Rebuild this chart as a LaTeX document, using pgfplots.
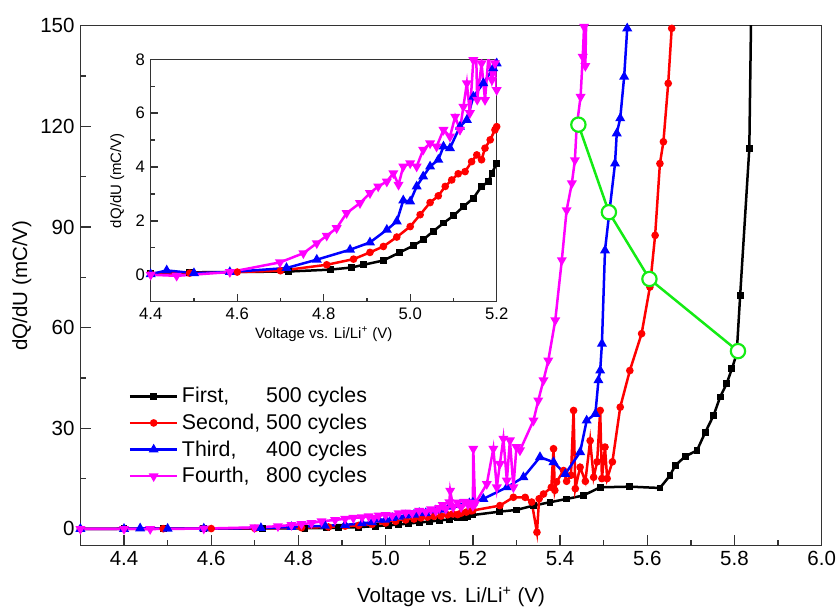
\documentclass[border=0pt]{standalone}
\usepackage{pgfplots}
\pgfplotsset{compat=1.18}
\usepackage{pgfplotstable}
\usepackage{fontspec}
\setmainfont{Liberation Sans}

\definecolor{lgreen}{RGB}{20,235,20}
\definecolor{pmag}{RGB}{255,0,255}
\definecolor{pred}{RGB}{255,0,0}
\definecolor{pblue}{RGB}{0,0,255}

% First, 500 cycles
\pgfplotstableread{
V q
4.300 0.00
4.400 0.06
4.490 0.09
4.583 0.10
4.718 0.12
4.815 0.19
4.865 0.27
4.892 0.37
4.938 0.53
4.976 0.83
5.007 1.08
5.030 1.30
5.053 1.61
5.077 1.92
5.100 2.19
5.123 2.53
5.146 2.84
5.165 3.28
5.181 3.46
5.189 3.77
5.200 4.14
5.262 5.16
5.300 5.66
5.339 6.95
5.377 7.95
5.415 8.94
5.453 9.94
5.492 12.4
5.560 12.6
5.629 12.2
5.652 15.9
5.664 18.9
5.687 21.6
5.714 23.4
5.733 28.8
5.752 33.8
5.767 39.3
5.782 43.3
5.794 47.7
5.805 52.2
5.813 69.6
5.834 113.4
5.838 152
}\first

% Second, 500 cycles
\pgfplotstableread{
V q
4.300 0.00
4.400 0.03
4.490 0.06
4.600 0.10
4.700 0.15
4.807 0.37
4.869 0.58
4.907 0.83
4.938 1.05
4.969 1.40
5.000 1.79
5.023 2.23
5.046 2.68
5.065 2.93
5.081 3.28
5.096 3.52
5.111 3.75
5.127 3.83
5.142 4.20
5.154 4.45
5.165 4.27
5.173 4.70
5.185 5.01
5.196 5.38
5.200 5.50
5.262 6.95
5.293 9.43
5.320 9.40
5.335 8.00
5.347 -1.00
5.352 9.00
5.362 10.4
5.380 12.4
5.385 23.9
5.388 11.5
5.392 14.0
5.408 17.4
5.415 14.2
5.425 16.0
5.431 35.3
5.435 12.0
5.446 18.4
5.458 14.2
5.469 26.3
5.477 15.4
5.485 20.0
5.492 35.3
5.496 15.0
5.503 24.4
5.508 15.0
5.520 20.0
5.538 36.3
5.560 47.2
5.587 58.2
5.606 72.1
5.618 87.5
5.629 108.9
5.637 115.4
5.648 132.8
5.656 149.2
5.658 152
}\second

% Third, 400 cycles
\pgfplotstableread{
V q
4.300 0.00
4.400 0.02
4.437 0.16
4.500 0.06
4.583 0.10
4.714 0.25
4.784 0.56
4.861 0.93
4.907 1.20
4.946 1.67
4.969 1.98
4.984 2.76
5.000 2.72
5.015 3.28
5.030 3.65
5.046 4.02
5.065 4.27
5.077 4.76
5.092 4.70
5.115 5.50
5.131 5.75
5.146 6.61
5.169 7.11
5.192 7.67
5.200 7.85
5.224 8.95
5.278 12.4
5.316 15.4
5.354 21.4
5.385 19.9
5.412 16.4
5.446 22.9
5.461 32.3
5.481 34.3
5.488 44.3
5.492 47.2
5.496 55.2
5.503 83.0
5.513 94.4
5.526 108.9
5.530 117.9
5.538 122.4
5.547 134.8
5.554 149.2
5.556 152
}\third

% Fourth, 800 cycles
\pgfplotstableread{
V q
4.300 0.00
4.400 0.00
4.460 -0.04
4.583 0.10
4.699 0.46
4.753 0.80
4.784 1.17
4.807 1.45
4.830 1.73
4.853 2.29
4.884 2.66
4.907 3.03
4.926 3.28
4.946 3.46
4.961 3.77
4.973 3.34
4.984 4.02
5.000 4.14
5.015 4.02
5.030 4.64
5.046 4.88
5.061 4.76
5.077 5.38
5.092 5.13
5.104 5.87
5.115 5.38
5.123 6.24
5.131 7.11
5.138 6.00
5.146 7.97
5.148 11.4
5.155 6.50
5.165 7.85
5.173 6.49
5.181 8.10
5.189 7.23
5.196 7.85
5.200 6.86
5.201 23.9
5.205 7.50
5.232 13.4
5.247 23.9
5.255 12.4
5.262 19.4
5.270 26.9
5.278 14.4
5.285 26.4
5.293 12.4
5.300 24.4
5.308 23.4
5.339 32.3
5.350 38.3
5.362 44.3
5.373 50.2
5.389 62.2
5.404 80.1
5.415 95.0
5.427 103.0
5.434 109.9
5.438 119.8
5.447 128.8
5.452 140.7
5.455 149.7
5.458 138.0
5.460 152
}\fourth

% onset points
\pgfplotstableread{
V q
5.442 120.5
5.512 94.4
5.605 74.5
5.808 53.0
}\onset

\pgfplotsset{
  s1/.style={black, line width=1.5pt, mark=square*, mark size=1.3pt},
  s2/.style={pred, line width=1.5pt, mark=*, mark size=1.5pt},
  s3/.style={pblue, line width=1.5pt, mark=triangle*, mark size=2pt},
  s4/.style={pmag, line width=1.5pt, mark=triangle*, mark options={rotate=180}, mark size=2pt},
  common/.style={
    scale only axis,
    tick align=inside,
    tick pos=left,
    axis line style={black!80, line width=0.8pt},
    tick style={black!80, line width=0.8pt},
    minor tick num=1,
    /pgf/number format/assume math mode=true,
  },
}

\begin{document}
\begin{tikzpicture}
\path[use as bounding box] (-48.24pt,-40.98pt) rectangle (455.16pt,327.42pt);

\begin{axis}[
  common,
  at={(0,0)}, anchor=south west,
  width=444.78pt, height=312pt,
  xmin=4.3, xmax=6.0,
  ymin=-5, ymax=150,
  xtick={4.4,4.6,4.8,5.0,5.2,5.4,5.6,5.8,6.0},
  ytick={0,30,60,90,120,150},
  major tick length=6.6pt,
  minor tick length=3.6pt,
  xticklabel style={/pgf/number format/.cd, fixed, fixed zerofill, precision=1},
  tick label style={font=\fontsize{12.3}{14}\selectfont},
  label style={font=\fontsize{12.3}{14}\selectfont},
  xlabel={Voltage vs. Li/Li\textsuperscript{+} (V)},
  ylabel={dQ/dU (mC/V)},
  xlabel style={at={(axis description cs:0.5,-0.099)}, anchor=center},
  ylabel style={at={(axis description cs:-0.079,0.5)}, anchor=center},
  legend style={at={(0.058,0.318)}, anchor=north west, draw=none, fill=none,
    font=\fontsize{12.8}{15}\selectfont, row sep=1.2pt},
  legend cell align=left,
  legend image code/.code={\draw[mark repeat=2,mark phase=2,#1] plot coordinates {(0cm,0cm) (0.5cm,0cm) (1.0cm,0cm)};},
]
\addplot[s1] table[x=V,y=q] {\first};
\addlegendentry{\rlap{First,}\phantom{Second,} 500 cycles}
\addplot[s2] table[x=V,y=q] {\second};
\addlegendentry{Second, 500 cycles}
\addplot[s3] table[x=V,y=q] {\third};
\addlegendentry{\rlap{Third,}\phantom{Second,} 400 cycles}
\addplot[s4] table[x=V,y=q] {\fourth};
\addlegendentry{\rlap{Fourth,}\phantom{Second,} 800 cycles}
\addplot[lgreen, line width=1.5pt, mark=*, mark size=4.3pt,
  mark options={fill=white, draw=lgreen, line width=1.3pt}, forget plot]
  table[x=V,y=q] {\onset};
\end{axis}

% inset
\begin{axis}[
  common,
  at={(42.18pt,146.4pt)}, anchor=south west,
  width=207.6pt, height=145.44pt,
  xmin=4.4, xmax=5.2,
  ymin=-1, ymax=8,
  xtick={4.4,4.6,4.8,5.0,5.2},
  ytick={0,2,4,6,8},
  major tick length=4.5pt,
  minor tick length=2.5pt,
  axis background/.style={fill=white},
  xticklabel style={/pgf/number format/.cd, fixed, fixed zerofill, precision=1},
  tick label style={font=\fontsize{10}{12}\selectfont},
  label style={font=\fontsize{9}{11}\selectfont},
  xlabel={Voltage vs. Li/Li\textsuperscript{+} (V)},
  ylabel={dQ/dU (mC/V)},
  xlabel style={at={(axis description cs:0.5,-0.135)}, anchor=center},
  ylabel style={at={(axis description cs:-0.097,0.5)}, anchor=center},
]
\addplot[s1] table[x=V,y=q] {\first};
\addplot[s2] table[x=V,y=q] {\second};
\addplot[s3] table[x=V,y=q] {\third};
\addplot[s4] table[x=V,y=q] {\fourth};
\end{axis}
\end{tikzpicture}
\end{document}
